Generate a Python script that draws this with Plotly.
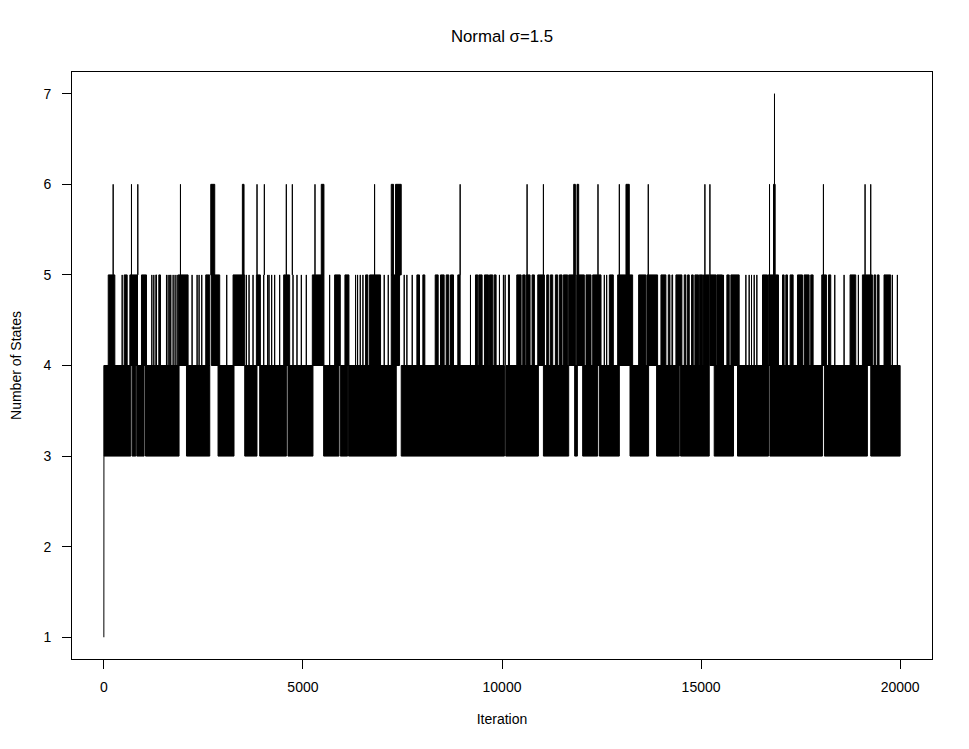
import plotly.graph_objects as go

# MCMC trace: number of states per iteration
# each band lists [start, end] iteration runs where the chain jumps between the two levels
init_iter = [0, 1, 2]
init_states = [1, 2, 3]

band_3_4 = [(0, 677), (710, 803), (828, 1011), (1046, 1889), (2075, 2660), (2868, 3269),
            (3538, 3846), (3914, 4584), (4624, 5252), (5520, 5904), (5939, 6122),
            (6147, 7344), (7469, 10061), (10094, 10914), (11040, 11675), (11825, 11893),
            (12026, 12402), (12445, 12947), (13215, 13682), (13883, 14452), (14485, 15205),
            (15330, 15815), (15915, 16693), (16728, 18048), (18098, 19177), (19262, 20000)]

band_4_5 = [(110, 276), (460, 460), (510, 586), (653, 845), (945, 1071), (1205, 1205),
            (1255, 1255), (1305, 1322), (1380, 1422), (1573, 1573), (1614, 1614),
            (1656, 1656), (1681, 1681), (1740, 1740), (1790, 1790), (1840, 1840),
            (1865, 2116), (2216, 2216), (2342, 2342), (2392, 2392), (2459, 2459),
            (2559, 2660), (2701, 2910), (3086, 3086), (3245, 3538), (3580, 3580),
            (3647, 3647), (3747, 3747), (3831, 3931), (4015, 4015), (4115, 4115),
            (4148, 4148), (4215, 4215), (4290, 4290), (4416, 4416), (4516, 4667),
            (4751, 4751), (4851, 4851), (4960, 4960), (5085, 5085), (5236, 5528),
            (5671, 5671), (5796, 5938), (6055, 6156), (6323, 6323), (6373, 6373),
            (6440, 6440), (6507, 6507), (6574, 6632), (6674, 6950), (7042, 7042),
            (7143, 7143), (7218, 7427), (7544, 7544), (7611, 7611), (7745, 7745),
            (7862, 7928), (8012, 8062), (8322, 8397), (8455, 8547), (8598, 8665),
            (8706, 8782), (8890, 8949), (9208, 9208), (9334, 9392), (9417, 9501),
            (9559, 9660), (9685, 9768), (9802, 9852), (9936, 9936), (10036, 10036),
            (10078, 10078), (10162, 10187), (10371, 10480), (10521, 10580), (10605, 10705),
            (10755, 10814), (10898, 11065), (11123, 11174), (11215, 11274), (11341, 11399),
            (11441, 11508), (11542, 11650), (11675, 11843), (11876, 12068), (12110, 12236),
            (12278, 12487), (12570, 12570), (12629, 12629), (12696, 12796), (12905, 13281),
            (13432, 13615), (13641, 13908), (13992, 14117), (14176, 14218), (14268, 14285),
            (14368, 14519), (14577, 14619), (14661, 14703), (14761, 14803), (14845, 14937),
            (14954, 15040), (15060, 15205), (15222, 15380), (15400, 15539), (15564, 15564),
            (15648, 15707), (15748, 15957), (16125, 16125), (16208, 16208), (16267, 16267),
            (16334, 16334), (16401, 16401), (16543, 16668), (16685, 16944), (17045, 17086),
            (17128, 17170), (17237, 17312), (17421, 17546), (17588, 17714), (17755, 17814),
            (18031, 18149), (18199, 18257), (18358, 18358), (18592, 18592), (18742, 18885),
            (18951, 18951), (19052, 19303), (19345, 19386), (19428, 19470), (19595, 19763),
            (19805, 19805), (19930, 19930)]

band_5_6 = [(234, 234), (694, 694), (853, 853), (1924, 1924), (2685, 2785), (3479, 3521),
            (3847, 3847), (4031, 4031), (4583, 4583), (4734, 4734), (5303, 5303),
            (5461, 5528), (6800, 6800), (7218, 7276), (7326, 7469), (8949, 8949),
            (10630, 10630), (11040, 11040), (11801, 11843), (11884, 11926), (12411, 12411),
            (12947, 12947), (13114, 13197), (13674, 13674), (15096, 15096), (15222, 15222),
            (16719, 16719), (16819, 16861), (18073, 18073), (19119, 19119), (19261, 19261)]

band_6_7 = [(16844, 16844)]

bands = [(3, 4, band_3_4), (4, 5, band_4_5), (5, 6, band_5_6), (6, 7, band_6_7)]

x_ticks = [0, 5000, 10000, 15000, 20000]
x_labels = ["0", "5000", "10000", "15000", "20000"]
y_ticks = [1, 2, 3, 4, 5, 6, 7]

FONT = "Liberation Sans, Arial, sans-serif"

fig = go.Figure()

fig.add_trace(go.Scatter(x=init_iter, y=init_states, mode="lines",
                         line=dict(color="black", width=1), hoverinfo="skip"))

for lo, hi, runs in bands:
    xs, ys = [], []
    for a, b in runs:
        xs += [a, b, b, a, a, None]
        ys += [lo, lo, hi, hi, lo, None]
    fig.add_trace(go.Scatter(x=xs, y=ys, mode="lines", fill="toself",
                             fillcolor="black", line=dict(color="black", width=1),
                             hoverinfo="skip"))

axis_common = dict(showgrid=False, zeroline=False, showline=True, mirror=True,
                   linecolor="black", linewidth=1, ticks="outside", ticklen=9,
                   tickwidth=1, tickcolor="black", automargin=False,
                   tickfont=dict(family=FONT, size=14, color="black"))

# the page body has an 8px margin, so the figure is sized to fit the window
fig.update_layout(
    width=961, height=741,
    margin=dict(l=64, r=37, t=64, b=90),
    paper_bgcolor="white", plot_bgcolor="white",
    showlegend=False,
    font=dict(family=FONT, color="black"),
    title=dict(text="Normal σ=1.5", x=494 / 961, xanchor="center",
               y=1 - 28 / 741, yanchor="middle",
               font=dict(family=FONT, size=16.8, color="black")),
    xaxis=dict(range=[-800, 20800], tickvals=x_ticks, ticktext=x_labels,
               ticklabelstandoff=6,
               title=dict(text="Iteration", standoff=20,
                          font=dict(family=FONT, size=14, color="black")),
               **axis_common),
    yaxis=dict(range=[0.76, 7.24], tickvals=y_ticks, ticklabelstandoff=8,
               title=dict(text="Number of States", standoff=24,
                          font=dict(family=FONT, size=14, color="black")),
               **axis_common),
)

fig.write_html("out.html")
